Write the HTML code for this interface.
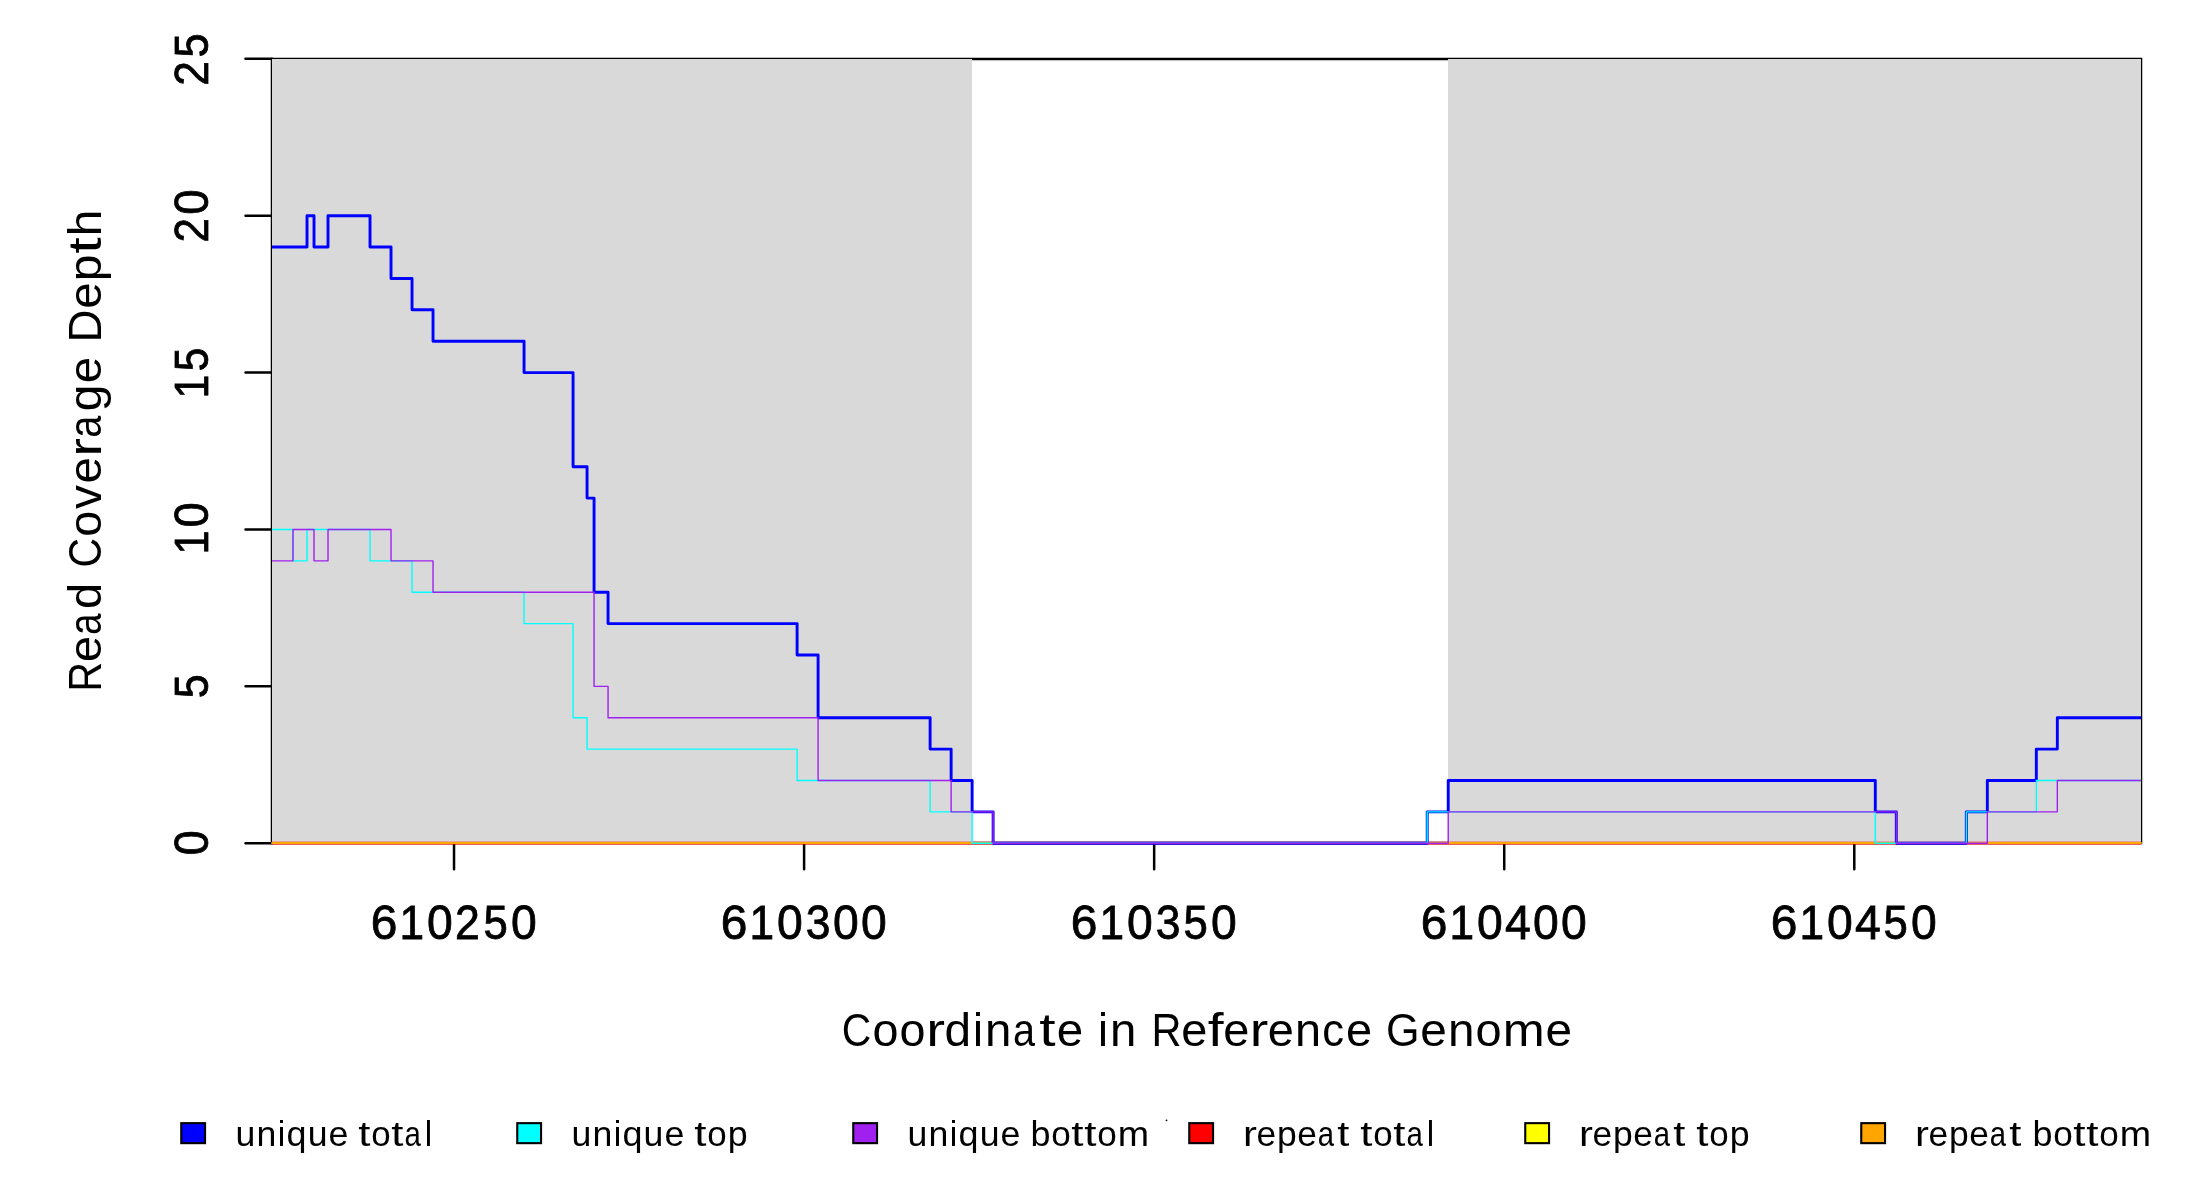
<!DOCTYPE html>
<html><head><meta charset="utf-8"><style>
html,body{margin:0;padding:0;background:#fff;width:2200px;height:1200px;overflow:hidden}
svg{display:block;will-change:transform}
text{font-family:"Liberation Sans",sans-serif;fill:#000}
.b{stroke:#000;stroke-width:0.8px}
</style></head><body>
<svg width="2200" height="1200" viewBox="0 0 2200 1200">
<rect x="0" y="0" width="2200" height="1200" fill="#fff"/>
<rect x="272" y="59" width="1869" height="784" fill="none" stroke="#000" stroke-width="2.5"/>
<path d="M245.5 843.25 L272.00 843.25 M245.5 686.36 L272.00 686.36 M245.5 529.47 L272.00 529.47 M245.5 372.58 L272.00 372.58 M245.5 215.69 L272.00 215.69 M245.5 58.80 L272.00 58.80 M454.03 843.25 L454.03 869.35 M804.10 843.25 L804.10 869.35 M1154.16 843.25 L1154.16 869.35 M1504.23 843.25 L1504.23 869.35 M1854.29 843.25 L1854.29 869.35" stroke="#000" stroke-width="2.5" stroke-linecap="round" fill="none"/>
<rect x="272" y="59" width="700" height="784" fill="#d9d9d9"/>
<rect x="1448" y="59" width="693" height="784" fill="#d9d9d9"/>
<path d="M272.00 843.1 L2141.00 843.1" stroke="#ff0000" stroke-width="2.8" fill="none"/>
<path d="M272.00 843.0 L2141.00 843.0" stroke="#ffff00" stroke-width="2.0" fill="none"/>
<path d="M272.00 843.0 L2141.00 843.0" stroke="#ffa500" stroke-width="2.0" stroke-linecap="round" fill="none"/>
<path d="M272.00 247.07 L307.01 247.07 L307.01 215.69 L314.01 215.69 L314.01 247.07 L328.01 247.07 L328.01 215.69 L370.02 215.69 L370.02 247.07 L391.02 247.07 L391.02 278.45 L412.03 278.45 L412.03 309.82 L433.03 309.82 L433.03 341.20 L524.05 341.20 L524.05 372.58 L573.06 372.58 L573.06 466.71 L587.06 466.71 L587.06 498.09 L594.06 498.09 L594.06 592.23 L608.06 592.23 L608.06 623.60 L797.10 623.60 L797.10 654.98 L818.10 654.98 L818.10 717.74 L930.12 717.74 L930.12 749.12 L951.13 749.12 L951.13 780.49 L972.13 780.49 L972.13 811.87 L993.13 811.87 L993.13 843.25 L1427.21 843.25 L1427.21 811.87 L1448.22 811.87 L1448.22 780.49 L1875.30 780.49 L1875.30 811.87 L1896.30 811.87 L1896.30 843.25 L1966.31 843.25 L1966.31 811.87 L1987.32 811.87 L1987.32 780.49 L2036.33 780.49 L2036.33 749.12 L2057.33 749.12 L2057.33 717.74 L2141.00 717.74" stroke="#0000ff" stroke-width="2.9" stroke-linejoin="round" fill="none"/>
<path d="M272.00 529.47 L293.00 529.47 L293.00 560.85 L307.01 560.85 L307.01 529.47 L370.02 529.47 L370.02 560.85 L412.03 560.85 L412.03 592.23 L524.05 592.23 L524.05 623.60 L573.06 623.60 L573.06 717.74 L587.06 717.74 L587.06 749.12 L797.10 749.12 L797.10 780.49 L930.12 780.49 L930.12 811.87 L972.13 811.87 L972.13 843.25 L1427.21 843.25 L1427.21 811.87 L1875.30 811.87 L1875.30 843.25 L1966.31 843.25 L1966.31 811.87 L2036.33 811.87 L2036.33 780.49 L2141.00 780.49" stroke="#00ffff" stroke-width="1.4" stroke-linejoin="round" fill="none"/>
<path d="M272.00 560.85 L293.00 560.85 L293.00 529.47 L314.01 529.47 L314.01 560.85 L328.01 560.85 L328.01 529.47 L391.02 529.47 L391.02 560.85 L433.03 560.85 L433.03 592.23 L594.06 592.23 L594.06 686.36 L608.06 686.36 L608.06 717.74 L818.10 717.74 L818.10 780.49 L951.13 780.49 L951.13 811.87 L993.13 811.87 L993.13 843.25 L1448.22 843.25 L1448.22 811.87 L1896.30 811.87 L1896.30 843.25 L1987.32 843.25 L1987.32 811.87 L2057.33 811.87 L2057.33 780.49 L2141.00 780.49" stroke="#a020f0" stroke-width="1.4" stroke-linejoin="round" fill="none"/>
<text x="370.77" y="938.83" font-size="47.74" textLength="26.65" lengthAdjust="spacingAndGlyphs" class="b">6</text>
<text x="399.54" y="938.83" font-size="47.74" textLength="24.60" lengthAdjust="spacingAndGlyphs" class="b">1</text>
<text x="427.11" y="938.83" font-size="47.74" textLength="25.75" lengthAdjust="spacingAndGlyphs" class="b">0</text>
<text x="454.95" y="938.83" font-size="47.74" textLength="24.82" lengthAdjust="spacingAndGlyphs" class="b">2</text>
<text x="483.56" y="938.83" font-size="47.74" textLength="24.30" lengthAdjust="spacingAndGlyphs" class="b">5</text>
<text x="510.96" y="938.83" font-size="47.74" textLength="25.75" lengthAdjust="spacingAndGlyphs" class="b">0</text>
<text x="720.77" y="938.83" font-size="47.74" textLength="26.65" lengthAdjust="spacingAndGlyphs" class="b">6</text>
<text x="749.54" y="938.83" font-size="47.74" textLength="24.60" lengthAdjust="spacingAndGlyphs" class="b">1</text>
<text x="777.11" y="938.83" font-size="47.74" textLength="25.75" lengthAdjust="spacingAndGlyphs" class="b">0</text>
<text x="805.63" y="938.83" font-size="47.74" textLength="24.73" lengthAdjust="spacingAndGlyphs" class="b">3</text>
<text x="833.01" y="938.83" font-size="47.74" textLength="25.75" lengthAdjust="spacingAndGlyphs" class="b">0</text>
<text x="860.96" y="938.83" font-size="47.74" textLength="25.75" lengthAdjust="spacingAndGlyphs" class="b">0</text>
<text x="1070.77" y="938.83" font-size="47.74" textLength="26.65" lengthAdjust="spacingAndGlyphs" class="b">6</text>
<text x="1099.54" y="938.83" font-size="47.74" textLength="24.60" lengthAdjust="spacingAndGlyphs" class="b">1</text>
<text x="1127.11" y="938.83" font-size="47.74" textLength="25.75" lengthAdjust="spacingAndGlyphs" class="b">0</text>
<text x="1155.63" y="938.83" font-size="47.74" textLength="24.73" lengthAdjust="spacingAndGlyphs" class="b">3</text>
<text x="1183.56" y="938.83" font-size="47.74" textLength="24.30" lengthAdjust="spacingAndGlyphs" class="b">5</text>
<text x="1210.96" y="938.83" font-size="47.74" textLength="25.75" lengthAdjust="spacingAndGlyphs" class="b">0</text>
<text x="1420.77" y="938.83" font-size="47.74" textLength="26.65" lengthAdjust="spacingAndGlyphs" class="b">6</text>
<text x="1449.54" y="938.83" font-size="47.74" textLength="24.60" lengthAdjust="spacingAndGlyphs" class="b">1</text>
<text x="1477.11" y="938.83" font-size="47.74" textLength="25.75" lengthAdjust="spacingAndGlyphs" class="b">0</text>
<text x="1505.06" y="938.83" font-size="47.74" textLength="25.76" lengthAdjust="spacingAndGlyphs" class="b">4</text>
<text x="1533.01" y="938.83" font-size="47.74" textLength="25.75" lengthAdjust="spacingAndGlyphs" class="b">0</text>
<text x="1560.96" y="938.83" font-size="47.74" textLength="25.75" lengthAdjust="spacingAndGlyphs" class="b">0</text>
<text x="1770.77" y="938.83" font-size="47.74" textLength="26.65" lengthAdjust="spacingAndGlyphs" class="b">6</text>
<text x="1799.54" y="938.83" font-size="47.74" textLength="24.60" lengthAdjust="spacingAndGlyphs" class="b">1</text>
<text x="1827.11" y="938.83" font-size="47.74" textLength="25.75" lengthAdjust="spacingAndGlyphs" class="b">0</text>
<text x="1855.06" y="938.83" font-size="47.74" textLength="25.76" lengthAdjust="spacingAndGlyphs" class="b">4</text>
<text x="1883.56" y="938.83" font-size="47.74" textLength="24.30" lengthAdjust="spacingAndGlyphs" class="b">5</text>
<text x="1910.96" y="938.83" font-size="47.74" textLength="25.75" lengthAdjust="spacingAndGlyphs" class="b">0</text>
<text x="-855.35" y="208.13" font-size="47.88" textLength="24.96" lengthAdjust="spacingAndGlyphs" transform="rotate(-90)" class="b">0</text>
<text x="-698.23" y="208.13" font-size="47.88" textLength="24.05" lengthAdjust="spacingAndGlyphs" transform="rotate(-90)" class="b">5</text>
<text x="-554.60" y="208.13" font-size="47.88" textLength="24.11" lengthAdjust="spacingAndGlyphs" transform="rotate(-90)" class="b">1</text>
<text x="-527.57" y="208.13" font-size="47.88" textLength="25.24" lengthAdjust="spacingAndGlyphs" transform="rotate(-90)" class="b">0</text>
<text x="-398.47" y="208.13" font-size="47.88" textLength="23.85" lengthAdjust="spacingAndGlyphs" transform="rotate(-90)" class="b">1</text>
<text x="-371.19" y="208.13" font-size="47.88" textLength="23.57" lengthAdjust="spacingAndGlyphs" transform="rotate(-90)" class="b">5</text>
<text x="-242.51" y="208.13" font-size="47.88" textLength="24.49" lengthAdjust="spacingAndGlyphs" transform="rotate(-90)" class="b">2</text>
<text x="-214.83" y="208.13" font-size="47.88" textLength="25.41" lengthAdjust="spacingAndGlyphs" transform="rotate(-90)" class="b">0</text>
<text x="-85.83" y="208.13" font-size="47.88" textLength="24.65" lengthAdjust="spacingAndGlyphs" transform="rotate(-90)" class="b">2</text>
<text x="-57.41" y="208.13" font-size="47.88" textLength="24.14" lengthAdjust="spacingAndGlyphs" transform="rotate(-90)" class="b">5</text>
<text x="841.83" y="1045.70" font-size="46.51" textLength="29.49" lengthAdjust="spacingAndGlyphs">C</text>
<text x="872.61" y="1045.70" font-size="46.51" textLength="26.01" lengthAdjust="spacingAndGlyphs">o</text>
<text x="899.52" y="1045.70" font-size="46.51" textLength="26.01" lengthAdjust="spacingAndGlyphs">o</text>
<text x="926.22" y="1045.70" font-size="46.51" textLength="18.77" lengthAdjust="spacingAndGlyphs">r</text>
<text x="944.47" y="1045.70" font-size="46.51" textLength="26.59" lengthAdjust="spacingAndGlyphs">d</text>
<text x="973.11" y="1045.70" font-size="46.51" textLength="9.99" lengthAdjust="spacingAndGlyphs">i</text>
<text x="985.04" y="1045.70" font-size="46.51" textLength="26.38" lengthAdjust="spacingAndGlyphs">n</text>
<text x="1013.04" y="1045.70" font-size="46.51" textLength="22.00" lengthAdjust="spacingAndGlyphs">a</text>
<text x="1039.32" y="1045.70" font-size="46.51" textLength="16.33" lengthAdjust="spacingAndGlyphs">t</text>
<text x="1056.69" y="1045.70" font-size="46.51" textLength="26.42" lengthAdjust="spacingAndGlyphs">e</text>
<text x="1097.99" y="1045.70" font-size="46.51" textLength="9.98" lengthAdjust="spacingAndGlyphs">i</text>
<text x="1109.92" y="1045.70" font-size="46.51" textLength="26.36" lengthAdjust="spacingAndGlyphs">n</text>
<text x="1151.59" y="1045.70" font-size="46.51" textLength="29.99" lengthAdjust="spacingAndGlyphs">R</text>
<text x="1181.31" y="1045.70" font-size="46.51" textLength="26.09" lengthAdjust="spacingAndGlyphs">e</text>
<text x="1207.82" y="1045.70" font-size="46.51" textLength="15.84" lengthAdjust="spacingAndGlyphs">f</text>
<text x="1223.32" y="1045.70" font-size="46.51" textLength="26.09" lengthAdjust="spacingAndGlyphs">e</text>
<text x="1249.88" y="1045.70" font-size="46.51" textLength="18.53" lengthAdjust="spacingAndGlyphs">r</text>
<text x="1267.89" y="1045.70" font-size="46.51" textLength="26.09" lengthAdjust="spacingAndGlyphs">e</text>
<text x="1295.03" y="1045.70" font-size="46.51" textLength="26.04" lengthAdjust="spacingAndGlyphs">n</text>
<text x="1322.27" y="1045.70" font-size="46.51" textLength="21.79" lengthAdjust="spacingAndGlyphs">c</text>
<text x="1346.00" y="1045.70" font-size="46.51" textLength="26.09" lengthAdjust="spacingAndGlyphs">e</text>
<text x="1385.93" y="1045.70" font-size="46.51" textLength="33.53" lengthAdjust="spacingAndGlyphs">G</text>
<text x="1420.28" y="1045.70" font-size="46.51" textLength="26.55" lengthAdjust="spacingAndGlyphs">e</text>
<text x="1447.91" y="1045.70" font-size="46.51" textLength="26.50" lengthAdjust="spacingAndGlyphs">n</text>
<text x="1475.53" y="1045.70" font-size="46.51" textLength="26.13" lengthAdjust="spacingAndGlyphs">o</text>
<text x="1502.78" y="1045.70" font-size="46.51" textLength="41.95" lengthAdjust="spacingAndGlyphs">m</text>
<text x="1545.57" y="1045.70" font-size="46.51" textLength="26.55" lengthAdjust="spacingAndGlyphs">e</text>
<text x="-691.70" y="100.80" font-size="46.51" textLength="29.89" lengthAdjust="spacingAndGlyphs" transform="rotate(-90)">R</text>
<text x="-662.08" y="100.80" font-size="46.51" textLength="26.00" lengthAdjust="spacingAndGlyphs" transform="rotate(-90)">e</text>
<text x="-634.91" y="100.80" font-size="46.51" textLength="21.64" lengthAdjust="spacingAndGlyphs" transform="rotate(-90)">a</text>
<text x="-608.93" y="100.80" font-size="46.51" textLength="26.16" lengthAdjust="spacingAndGlyphs" transform="rotate(-90)">d</text>
<text x="-567.48" y="100.80" font-size="46.51" textLength="29.56" lengthAdjust="spacingAndGlyphs" transform="rotate(-90)">C</text>
<text x="-536.63" y="100.80" font-size="46.51" textLength="26.07" lengthAdjust="spacingAndGlyphs" transform="rotate(-90)">o</text>
<text x="-508.97" y="100.80" font-size="46.51" textLength="23.79" lengthAdjust="spacingAndGlyphs" transform="rotate(-90)">v</text>
<text x="-483.62" y="100.80" font-size="46.51" textLength="26.48" lengthAdjust="spacingAndGlyphs" transform="rotate(-90)">e</text>
<text x="-456.65" y="100.80" font-size="46.51" textLength="18.81" lengthAdjust="spacingAndGlyphs" transform="rotate(-90)">r</text>
<text x="-437.82" y="100.80" font-size="46.51" textLength="22.05" lengthAdjust="spacingAndGlyphs" transform="rotate(-90)">a</text>
<text x="-411.34" y="100.80" font-size="46.51" textLength="26.65" lengthAdjust="spacingAndGlyphs" transform="rotate(-90)">g</text>
<text x="-383.37" y="100.80" font-size="46.51" textLength="26.48" lengthAdjust="spacingAndGlyphs" transform="rotate(-90)">e</text>
<text x="-342.54" y="100.80" font-size="46.51" textLength="32.91" lengthAdjust="spacingAndGlyphs" transform="rotate(-90)">D</text>
<text x="-308.80" y="100.80" font-size="46.51" textLength="26.46" lengthAdjust="spacingAndGlyphs" transform="rotate(-90)">e</text>
<text x="-281.19" y="100.80" font-size="46.51" textLength="26.65" lengthAdjust="spacingAndGlyphs" transform="rotate(-90)">p</text>
<text x="-253.85" y="100.80" font-size="46.51" textLength="16.36" lengthAdjust="spacingAndGlyphs" transform="rotate(-90)">t</text>
<text x="-236.19" y="100.80" font-size="46.51" textLength="26.60" lengthAdjust="spacingAndGlyphs" transform="rotate(-90)">h</text>
<rect x="181.25" y="1123.15" width="23.8" height="20" fill="#0000ff" stroke="#000" stroke-width="2.1"/>
<text x="235.48" y="1145.90" font-size="35.61" textLength="19.84" lengthAdjust="spacingAndGlyphs">u</text>
<text x="256.60" y="1145.90" font-size="35.61" textLength="19.84" lengthAdjust="spacingAndGlyphs">n</text>
<text x="277.79" y="1145.90" font-size="35.61" textLength="7.51" lengthAdjust="spacingAndGlyphs">i</text>
<text x="286.44" y="1145.90" font-size="35.61" textLength="19.98" lengthAdjust="spacingAndGlyphs">q</text>
<text x="307.63" y="1145.90" font-size="35.61" textLength="19.84" lengthAdjust="spacingAndGlyphs">u</text>
<text x="328.41" y="1145.90" font-size="35.61" textLength="19.88" lengthAdjust="spacingAndGlyphs">e</text>
<text x="358.34" y="1145.90" font-size="35.61" textLength="12.17" lengthAdjust="spacingAndGlyphs">t</text>
<text x="371.32" y="1145.90" font-size="35.61" textLength="19.38" lengthAdjust="spacingAndGlyphs">o</text>
<text x="391.24" y="1145.90" font-size="35.61" textLength="12.17" lengthAdjust="spacingAndGlyphs">t</text>
<text x="404.60" y="1145.90" font-size="35.61" textLength="16.39" lengthAdjust="spacingAndGlyphs">a</text>
<text x="424.80" y="1145.90" font-size="35.61" textLength="7.44" lengthAdjust="spacingAndGlyphs">l</text>
<rect x="517.25" y="1123.15" width="23.8" height="20" fill="#00ffff" stroke="#000" stroke-width="2.1"/>
<text x="571.48" y="1145.90" font-size="35.61" textLength="19.84" lengthAdjust="spacingAndGlyphs">u</text>
<text x="592.60" y="1145.90" font-size="35.61" textLength="19.84" lengthAdjust="spacingAndGlyphs">n</text>
<text x="613.79" y="1145.90" font-size="35.61" textLength="7.51" lengthAdjust="spacingAndGlyphs">i</text>
<text x="622.44" y="1145.90" font-size="35.61" textLength="19.98" lengthAdjust="spacingAndGlyphs">q</text>
<text x="643.63" y="1145.90" font-size="35.61" textLength="19.84" lengthAdjust="spacingAndGlyphs">u</text>
<text x="664.41" y="1145.90" font-size="35.61" textLength="19.88" lengthAdjust="spacingAndGlyphs">e</text>
<text x="694.33" y="1145.90" font-size="35.61" textLength="12.21" lengthAdjust="spacingAndGlyphs">t</text>
<text x="707.36" y="1145.90" font-size="35.61" textLength="19.44" lengthAdjust="spacingAndGlyphs">o</text>
<text x="727.81" y="1145.90" font-size="35.61" textLength="19.90" lengthAdjust="spacingAndGlyphs">p</text>
<rect x="853.25" y="1123.15" width="23.8" height="20" fill="#a020f0" stroke="#000" stroke-width="2.1"/>
<text x="907.48" y="1145.90" font-size="35.61" textLength="19.84" lengthAdjust="spacingAndGlyphs">u</text>
<text x="928.60" y="1145.90" font-size="35.61" textLength="19.84" lengthAdjust="spacingAndGlyphs">n</text>
<text x="949.79" y="1145.90" font-size="35.61" textLength="7.51" lengthAdjust="spacingAndGlyphs">i</text>
<text x="958.44" y="1145.90" font-size="35.61" textLength="19.98" lengthAdjust="spacingAndGlyphs">q</text>
<text x="979.63" y="1145.90" font-size="35.61" textLength="19.84" lengthAdjust="spacingAndGlyphs">u</text>
<text x="1000.41" y="1145.90" font-size="35.61" textLength="19.88" lengthAdjust="spacingAndGlyphs">e</text>
<text x="1030.58" y="1145.90" font-size="35.61" textLength="19.98" lengthAdjust="spacingAndGlyphs">b</text>
<text x="1051.21" y="1145.90" font-size="35.61" textLength="19.52" lengthAdjust="spacingAndGlyphs">o</text>
<text x="1071.28" y="1145.90" font-size="35.61" textLength="12.26" lengthAdjust="spacingAndGlyphs">t</text>
<text x="1084.22" y="1145.90" font-size="35.61" textLength="12.26" lengthAdjust="spacingAndGlyphs">t</text>
<text x="1097.29" y="1145.90" font-size="35.61" textLength="19.52" lengthAdjust="spacingAndGlyphs">o</text>
<text x="1117.65" y="1145.90" font-size="35.61" textLength="31.33" lengthAdjust="spacingAndGlyphs">m</text>
<rect x="1189.25" y="1123.15" width="23.8" height="20" fill="#ff0000" stroke="#000" stroke-width="2.1"/>
<text x="1243.02" y="1145.90" font-size="35.61" textLength="13.92" lengthAdjust="spacingAndGlyphs">r</text>
<text x="1256.55" y="1145.90" font-size="35.61" textLength="19.60" lengthAdjust="spacingAndGlyphs">e</text>
<text x="1277.00" y="1145.90" font-size="35.61" textLength="19.74" lengthAdjust="spacingAndGlyphs">p</text>
<text x="1297.33" y="1145.90" font-size="35.61" textLength="19.60" lengthAdjust="spacingAndGlyphs">e</text>
<text x="1317.81" y="1145.90" font-size="35.61" textLength="16.32" lengthAdjust="spacingAndGlyphs">a</text>
<text x="1337.31" y="1145.90" font-size="35.61" textLength="12.11" lengthAdjust="spacingAndGlyphs">t</text>
<text x="1360.34" y="1145.90" font-size="35.61" textLength="12.17" lengthAdjust="spacingAndGlyphs">t</text>
<text x="1373.32" y="1145.90" font-size="35.61" textLength="19.38" lengthAdjust="spacingAndGlyphs">o</text>
<text x="1393.24" y="1145.90" font-size="35.61" textLength="12.17" lengthAdjust="spacingAndGlyphs">t</text>
<text x="1406.60" y="1145.90" font-size="35.61" textLength="16.39" lengthAdjust="spacingAndGlyphs">a</text>
<text x="1426.80" y="1145.90" font-size="35.61" textLength="7.44" lengthAdjust="spacingAndGlyphs">l</text>
<rect x="1525.25" y="1123.15" width="23.8" height="20" fill="#ffff00" stroke="#000" stroke-width="2.1"/>
<text x="1579.02" y="1145.90" font-size="35.61" textLength="13.92" lengthAdjust="spacingAndGlyphs">r</text>
<text x="1592.55" y="1145.90" font-size="35.61" textLength="19.60" lengthAdjust="spacingAndGlyphs">e</text>
<text x="1613.00" y="1145.90" font-size="35.61" textLength="19.74" lengthAdjust="spacingAndGlyphs">p</text>
<text x="1633.33" y="1145.90" font-size="35.61" textLength="19.60" lengthAdjust="spacingAndGlyphs">e</text>
<text x="1653.81" y="1145.90" font-size="35.61" textLength="16.32" lengthAdjust="spacingAndGlyphs">a</text>
<text x="1673.31" y="1145.90" font-size="35.61" textLength="12.11" lengthAdjust="spacingAndGlyphs">t</text>
<text x="1696.33" y="1145.90" font-size="35.61" textLength="12.21" lengthAdjust="spacingAndGlyphs">t</text>
<text x="1709.36" y="1145.90" font-size="35.61" textLength="19.44" lengthAdjust="spacingAndGlyphs">o</text>
<text x="1729.81" y="1145.90" font-size="35.61" textLength="19.90" lengthAdjust="spacingAndGlyphs">p</text>
<rect x="1861.25" y="1123.15" width="23.8" height="20" fill="#ffa500" stroke="#000" stroke-width="2.1"/>
<text x="1915.02" y="1145.90" font-size="35.61" textLength="13.92" lengthAdjust="spacingAndGlyphs">r</text>
<text x="1928.55" y="1145.90" font-size="35.61" textLength="19.60" lengthAdjust="spacingAndGlyphs">e</text>
<text x="1949.00" y="1145.90" font-size="35.61" textLength="19.74" lengthAdjust="spacingAndGlyphs">p</text>
<text x="1969.33" y="1145.90" font-size="35.61" textLength="19.60" lengthAdjust="spacingAndGlyphs">e</text>
<text x="1989.81" y="1145.90" font-size="35.61" textLength="16.32" lengthAdjust="spacingAndGlyphs">a</text>
<text x="2009.31" y="1145.90" font-size="35.61" textLength="12.11" lengthAdjust="spacingAndGlyphs">t</text>
<text x="2032.58" y="1145.90" font-size="35.61" textLength="19.98" lengthAdjust="spacingAndGlyphs">b</text>
<text x="2053.21" y="1145.90" font-size="35.61" textLength="19.52" lengthAdjust="spacingAndGlyphs">o</text>
<text x="2073.28" y="1145.90" font-size="35.61" textLength="12.26" lengthAdjust="spacingAndGlyphs">t</text>
<text x="2086.22" y="1145.90" font-size="35.61" textLength="12.26" lengthAdjust="spacingAndGlyphs">t</text>
<text x="2099.29" y="1145.90" font-size="35.61" textLength="19.52" lengthAdjust="spacingAndGlyphs">o</text>
<text x="2119.65" y="1145.90" font-size="35.61" textLength="31.33" lengthAdjust="spacingAndGlyphs">m</text>
<circle cx="1166.5" cy="1120.3" r="0.9" fill="#000"/>
</svg>
</body></html>
